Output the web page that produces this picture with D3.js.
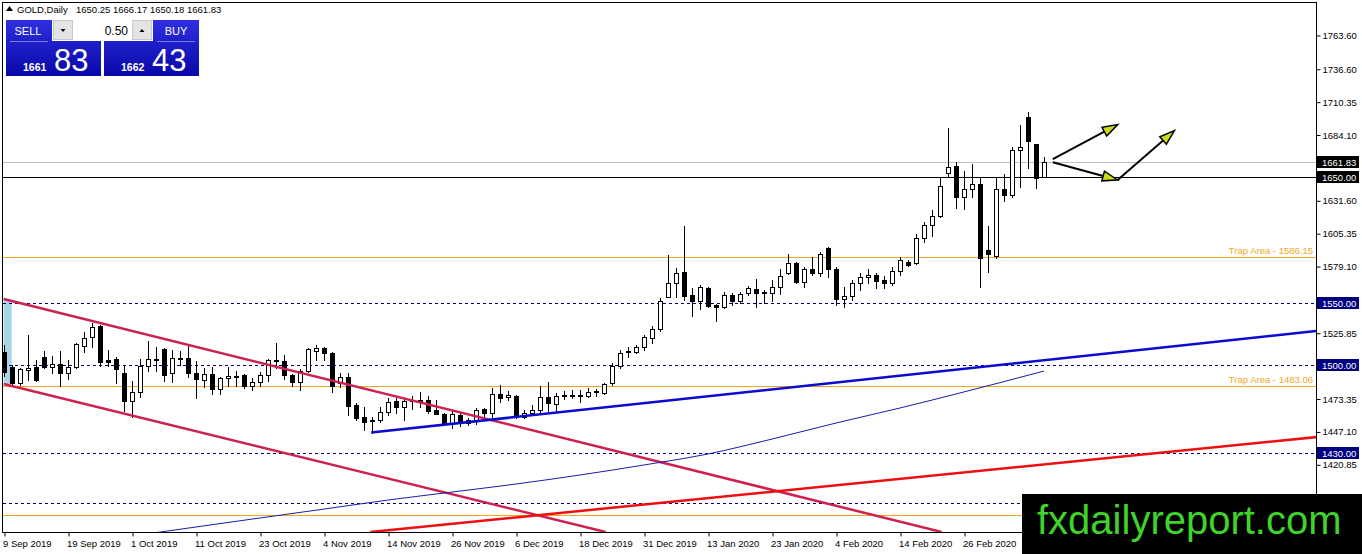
<!DOCTYPE html>
<html>
<head>
<meta charset="utf-8">
<script src="https://cdn.jsdelivr.net/npm/d3@7"></script>
<style>
body { margin: 0; background: #fff; }
svg { display: block; font-family: "Liberation Sans", Arial, sans-serif; }
</style>
</head>
<body>
<svg id="chart" width="1362" height="554"></svg>
<script>
// daily bars, 9 Sep 2019 onwards: [open, high, low, close]
const ohlc = [
  [1510.5,1516.1,1491.3,1494.5],[1498.5,1500.1,1485.0,1485.8],[1485.8,1497.7,1484.1,1496.9],[1496.5,1524.0,1488.1,1498.0],
  [1498.5,1504.1,1487.4,1488.1],[1506.5,1511.3,1497.7,1498.5],[1498.5,1507.3,1493.7,1500.9],[1500.9,1511.3,1483.3,1493.7],
  [1493.7,1504.1,1489.0,1498.5],[1498.5,1517.7,1497.7,1516.9],[1515.3,1526.4,1510.5,1521.7],[1522.5,1533.7,1514.5,1530.5],
  [1531.3,1532.0,1499.3,1502.5],[1504.1,1512.1,1499.3,1502.5],[1504.9,1506.5,1485.8,1496.9],[1493.7,1500.1,1463.4,1471.4],
  [1471.4,1487.4,1458.6,1478.6],[1478.6,1504.9,1474.6,1499.3],[1499.3,1519.3,1495.3,1504.9],[1504.9,1514.5,1495.3,1504.1],
  [1512.9,1513.7,1487.4,1492.1],[1493.7,1512.1,1486.6,1505.7],[1504.9,1511.3,1500.1,1505.7],[1505.7,1516.1,1490.5,1493.7],
  [1493.7,1503.3,1473.8,1489.0],[1488.1,1497.7,1482.5,1493.0],[1493.0,1498.5,1477.0,1481.0],[1481.0,1490.5,1477.0,1489.7],
  [1489.7,1498.5,1483.3,1491.3],[1490.5,1495.3,1483.3,1491.3],[1492.1,1492.6,1481.8,1483.3],[1483.3,1489.7,1480.2,1486.6],
  [1486.6,1494.5,1483.3,1492.1],[1492.1,1504.6,1487.4,1504.1],[1504.1,1517.7,1497.7,1503.3],[1503.3,1508.1,1489.0,1492.1],
  [1492.1,1492.6,1483.3,1486.6],[1486.6,1496.9,1480.2,1495.3],[1495.3,1513.7,1494.5,1512.9],[1511.3,1516.1,1504.1,1513.7],
  [1513.7,1514.5,1504.1,1509.7],[1509.7,1510.5,1478.6,1483.3],[1485.8,1493.7,1482.5,1490.5],[1490.5,1493.7,1460.2,1467.4],
  [1468.2,1469.8,1456.2,1457.8],[1458.6,1466.6,1448.2,1454.6],[1456.2,1458.6,1445.8,1455.4],[1456.2,1466.6,1454.6,1462.6],
  [1462.6,1473.8,1460.2,1470.6],[1471.4,1473.8,1461.8,1466.6],[1466.6,1473.0,1456.2,1471.4],[1471.4,1475.4,1465.0,1472.2],
  [1472.2,1478.6,1466.6,1470.6],[1472.2,1475.4,1461.8,1463.4],[1464.2,1472.2,1461.0,1461.0],[1461.0,1461.8,1453.0,1453.8],
  [1453.8,1464.2,1449.8,1461.0],[1460.2,1461.8,1451.4,1453.8],[1453.8,1457.8,1452.2,1456.2],[1456.2,1465.8,1453.0,1464.2],
  [1465.0,1465.8,1456.2,1461.8],[1461.8,1481.8,1458.6,1477.0],[1477.0,1484.1,1470.6,1473.8],[1474.6,1479.4,1472.2,1476.2],
  [1475.4,1476.2,1457.8,1458.6],[1458.6,1464.2,1457.8,1461.8],[1461.8,1468.2,1460.2,1464.2],[1464.2,1483.3,1462.6,1474.6],
  [1474.6,1486.6,1463.4,1469.8],[1469.0,1477.8,1462.6,1475.4],[1475.4,1479.4,1473.0,1476.2],[1476.2,1480.2,1473.8,1475.4],
  [1475.4,1480.2,1470.6,1476.2],[1475.4,1481.8,1474.6,1478.6],[1478.6,1481.0,1475.4,1479.4],[1477.8,1485.8,1477.0,1485.0],
  [1485.8,1501.7,1484.1,1499.3],[1499.3,1512.1,1497.7,1509.7],[1510.5,1514.5,1506.5,1511.3],[1510.5,1516.1,1509.7,1514.5],
  [1514.5,1524.0,1512.1,1522.5],[1521.7,1531.3,1517.7,1528.9],[1528.9,1553.6,1527.3,1551.2],[1554.4,1588.0,1554.4,1565.6],
  [1565.6,1577.6,1554.4,1573.6],[1574.4,1611.1,1552.0,1555.2],[1556.0,1561.6,1539.3,1551.2],[1551.2,1564.0,1544.8,1562.4],
  [1561.6,1562.4,1546.4,1547.2],[1548.0,1548.5,1535.3,1546.4],[1546.4,1558.4,1545.6,1556.0],[1556.0,1557.6,1548.0,1551.2],
  [1551.2,1558.4,1549.6,1556.8],[1557.6,1563.2,1556.0,1561.6],[1560.8,1568.8,1546.4,1557.6],[1558.4,1560.0,1549.6,1557.6],
  [1557.6,1568.0,1551.2,1562.4],[1562.4,1576.8,1556.8,1571.2],[1573.6,1588.8,1573.0,1581.6],[1581.6,1582.0,1565.6,1566.4],
  [1566.4,1578.4,1562.4,1576.8],[1576.8,1586.4,1572.0,1573.6],[1573.6,1590.4,1571.2,1588.8],[1593.6,1594.0,1570.4,1576.8],
  [1576.8,1578.4,1548.0,1552.8],[1552.8,1562.4,1546.4,1555.2],[1555.2,1568.0,1552.0,1565.6],[1565.6,1573.6,1560.0,1570.4],
  [1570.4,1576.8,1565.6,1572.0],[1572.0,1573.6,1561.6,1567.2],[1568.0,1571.2,1561.6,1565.6],[1565.6,1578.4,1564.0,1575.2],
  [1575.2,1586.4,1572.0,1584.0],[1582.4,1584.0,1579.2,1580.0],[1581.6,1604.7,1581.0,1601.5],[1601.5,1614.3,1598.3,1611.9],
  [1611.9,1623.9,1603.1,1619.1],[1619.1,1650.2,1618.3,1643.0],[1653.4,1689.3,1650.2,1658.2],[1659.0,1662.2,1625.5,1634.3],
  [1634.3,1655.0,1624.7,1640.6],[1640.6,1660.6,1634.3,1644.6],[1644.6,1650.2,1562.4,1585.6],[1592.0,1611.1,1574.4,1588.7],
  [1587.1,1650.2,1585.5,1640.6],[1640.6,1652.6,1631.1,1635.8],[1635.8,1674.2,1634.3,1671.8],[1671.8,1691.7,1642.2,1674.2],
  [1698.1,1702.1,1657.4,1679.0],[1676.5,1676.9,1641.4,1649.4],[1650.25,1666.17,1650.18,1661.83]
];

const dateLabels = ["9 Sep 2019","19 Sep 2019","1 Oct 2019","11 Oct 2019","23 Oct 2019","4 Nov 2019",
  "14 Nov 2019","26 Nov 2019","6 Dec 2019","18 Dec 2019","31 Dec 2019","13 Jan 2020","23 Jan 2020",
  "4 Feb 2020","14 Feb 2020","26 Feb 2020"];
const labelBars = [0,8,16,24,32,40,48,56,64,72,80,88,96,104,112,120];

// visible scale labels (the ones under the price tags are not shown)
const priceTicks = [1763.60,1736.60,1710.35,1684.10,1631.60,1605.35,1579.10,
  1525.85,1473.35,1447.10,1420.85];

// moving average read at some bars: [bar, value]
const maLine = [[16,1363.6],[24,1370.8],[32,1378.0],[40,1385.1],[48,1392.3],[56,1398.7],[64,1405.1],
  [72,1412.3],[80,1420.3],[88,1429.1],[96,1441.0],[104,1453.8],[112,1465.8],[120,1478.6],[130,1495.3]];

// drawn objects, [bar, price] ends
const channelLines = [[[-0.04,1552.8],[117.2,1366.8]], [[-0.04,1484.9],[75.2,1366.8]]];
const redTrend = [[45.8,1366.8],[164.1,1442.6]];
const blueTrend = [[45.9,1446.2],[164.1,1527.3]];
const arrows = [[[131.1,1664.5],[139.2,1692.0]], [[131.1,1662.0],[139.2,1647.8]], [[139.2,1647.8],[146.3,1687.2]]];
const boxZone = [-0.04, 0.96, 1552.0, 1484.9];

const trapLevels = [1586.15, 1483.06, 1380.4];
const trapTexts = ["Trap Area  - 1586.15", "Trap Area - 1483.06", ""];
const dashLevels = [1550.00, 1500.00, 1430.00, 1390.00];
const taggedLevels = [1550.00, 1500.00, 1430.00];
const bidPrice = 1661.83;
const pendingPrice = 1650.00;
const header = ["GOLD,Daily", "1650.25 1666.17 1650.18 1661.83"];

const svg = d3.select("#chart");
const pLeft = 3, pRight = 1316, pTop = 3, pBottom = 532;

const x = d3.scaleLinear().domain([0, 164]).range([4, 4 + 8 * 164]);
const y = d3.scaleLinear().domain([1366.8, 1789.1]).range([pBottom, pTop]);
const py = v => Math.round(y(v)) + 0.5;

svg.append("rect").attr("width", 1362).attr("height", 554).attr("fill", "#fff");

const defs = svg.append("defs");
defs.append("clipPath").attr("id", "plotclip")
  .append("rect").attr("x", pLeft).attr("y", pTop).attr("width", pRight - pLeft).attr("height", pBottom - pTop);
const grad = defs.append("linearGradient").attr("id", "panelblue").attr("x1", 0).attr("y1", 0).attr("x2", 0).attr("y2", 1);
grad.append("stop").attr("offset", "0%").attr("stop-color", "#2f2fe0");
grad.append("stop").attr("offset", "100%").attr("stop-color", "#0808a8");

const plot = svg.append("g").attr("clip-path", "url(#plotclip)");

// light blue zone at the left edge
plot.append("rect")
  .attr("x", x(boxZone[0])).attr("width", x(boxZone[1]) - x(boxZone[0]))
  .attr("y", y(boxZone[2])).attr("height", y(boxZone[3]) - y(boxZone[2]))
  .attr("fill", "#a9d6e5");

// horizontal levels
plot.selectAll(".trap").data(trapLevels).enter().append("line")
  .attr("x1", pLeft).attr("x2", pRight).attr("y1", py).attr("y2", py)
  .attr("stroke", "#f0a81e").attr("stroke-width", 1);
plot.selectAll(".dash").data(dashLevels).enter().append("line")
  .attr("x1", pLeft).attr("x2", pRight).attr("y1", py).attr("y2", py)
  .attr("stroke", "#000080").attr("stroke-width", 1).attr("stroke-dasharray", "3,3");
plot.append("line").attr("x1", pLeft).attr("x2", pRight).attr("y1", py(bidPrice)).attr("y2", py(bidPrice))
  .attr("stroke", "#c0c0c0");
plot.append("line").attr("x1", pLeft).attr("x2", pRight).attr("y1", py(pendingPrice)).attr("y2", py(pendingPrice))
  .attr("stroke", "#000");

svg.selectAll(".traptxt").data(trapLevels).enter().append("text")
  .attr("x", pRight - 3).attr("y", d => y(d) - 3)
  .attr("text-anchor", "end").attr("font-size", 9.5).attr("fill", "#f0a81e")
  .text((d, i) => trapTexts[i]);

// candles
const cg = plot.append("g");
ohlc.forEach((d, i) => {
  const cx = Math.round(x(i));
  const [o, h, l, c] = d;
  cg.append("line").attr("x1", cx + 0.5).attr("x2", cx + 0.5)
    .attr("y1", Math.round(y(h))).attr("y2", Math.round(y(l)) + 1)
    .attr("stroke", "#000");
  const t = Math.round(y(Math.max(o, c))), b = Math.round(y(Math.min(o, c)));
  cg.append("rect").attr("x", cx - 1.5).attr("width", 4)
    .attr("y", t + 0.5).attr("height", Math.max(b - t, 0))
    .attr("fill", c >= o ? "#fff" : "#000").attr("stroke", "#000");
});

// trend lines
const seg = d3.line().x(d => x(d[0])).y(d => y(d[1]));
plot.selectAll(".chan").data(channelLines).enter().append("path")
  .attr("d", seg).attr("fill", "none").attr("stroke", "#cc2250").attr("stroke-width", 2.5);
plot.append("path").attr("d", seg(redTrend)).attr("fill", "none").attr("stroke", "#ee1010").attr("stroke-width", 2.5);
plot.append("path").attr("d", seg(blueTrend)).attr("fill", "none").attr("stroke", "#0a0ad0").attr("stroke-width", 2.5);
plot.append("path").attr("d", d3.line().x(d => x(d[0])).y(d => y(d[1])).curve(d3.curveMonotoneX)(maLine))
  .attr("fill", "none").attr("stroke", "#1c1ca8").attr("stroke-width", 1);

// arrows
arrows.forEach(a => {
  const x1 = x(a[0][0]), y1 = y(a[0][1]), x2 = x(a[1][0]), y2 = y(a[1][1]);
  const len = Math.hypot(x2 - x1, y2 - y1), ux = (x2 - x1) / len, uy = (y2 - y1) / len;
  const hl = 15, hw = 5;
  const bx = x2 - ux * hl, by = y2 - uy * hl;
  plot.append("line").attr("x1", x1).attr("y1", y1).attr("x2", bx).attr("y2", by)
    .attr("stroke", "#000").attr("stroke-width", 2);
  plot.append("path")
    .attr("d", `M${x2},${y2}L${bx - uy * hw},${by + ux * hw}L${bx + uy * hw},${by - ux * hw}Z`)
    .attr("fill", "#c8dc1a").attr("stroke", "#000").attr("stroke-width", 1.5).attr("stroke-linejoin", "miter");
});

// frame
svg.append("rect").attr("x", 2.5).attr("y", 2.5).attr("width", pRight - 2).attr("height", pBottom - 2)
  .attr("fill", "none").attr("stroke", "#000");

// price axis
const ya = svg.append("g").attr("transform", `translate(${pRight + 0.5},0.5)`)
  .call(d3.axisRight(y).tickValues(priceTicks).tickFormat(d3.format(".2f")).tickSize(4).tickPadding(2));
ya.select(".domain").remove();
ya.selectAll("text").attr("font-size", 9.5).attr("font-family", "Liberation Sans, Arial, sans-serif").attr("fill", "#000");

// price tags
function tag(v, bg) {
  const g = svg.append("g").attr("transform", `translate(${pRight + 1},${Math.round(y(v))})`);
  g.append("rect").attr("x", 0).attr("y", -6).attr("width", 42).attr("height", 12).attr("fill", bg);
  g.append("text").attr("x", 5).attr("y", 3.5).attr("font-size", 9.5).attr("fill", "#fff").text(d3.format(".2f")(v));
}
taggedLevels.forEach(v => tag(v, "#000080"));
tag(bidPrice, "#000");
tag(pendingPrice, "#000");

// time axis
const xa = svg.append("g").attr("transform", `translate(0.5,${pBottom + 0.5})`)
  .call(d3.axisBottom(x).tickValues(labelBars).tickFormat((d, i) => dateLabels[i]).tickSize(4).tickPadding(2));
xa.select(".domain").remove();
xa.selectAll("text").attr("text-anchor", "start").attr("x", -2).attr("y", 8).attr("dy", "0.71em")
  .attr("font-size", 9.5).attr("font-family", "Liberation Sans, Arial, sans-serif").attr("fill", "#000");

// header
svg.append("path").attr("d", "M6,11L9.5,6L13,11Z").attr("fill", "#000");
svg.append("text").attr("x", 17).attr("y", 12.5).attr("font-size", 9.5).text(header[0]);
svg.append("text").attr("x", 76).attr("y", 12.5).attr("font-size", 9.5).text(header[1]);

// one-click trading panel
const pn = svg.append("g");
pn.append("rect").attr("x", 6).attr("y", 20).attr("width", 95).attr("height", 56).attr("fill", "url(#panelblue)");
pn.append("rect").attr("x", 104).attr("y", 20).attr("width", 95).attr("height", 56).attr("fill", "url(#panelblue)");
pn.append("rect").attr("x", 52).attr("y", 19).attr("width", 101).attr("height", 22).attr("fill", "#fff");
pn.append("rect").attr("x", 53.5).attr("y", 20.5).attr("width", 19).attr("height", 19).attr("fill", "#e4e4e4").attr("stroke", "#c8c8c8");
pn.append("rect").attr("x", 132.5).attr("y", 20.5).attr("width", 19).attr("height", 19).attr("fill", "#e4e4e4").attr("stroke", "#c8c8c8");
pn.append("path").attr("d", "M60.5,29L65.5,29L63,32Z").attr("fill", "#000");
pn.append("path").attr("d", "M139.5,32L144.5,32L142,29Z").attr("fill", "#000");
pn.append("text").attr("x", 128).attr("y", 35).attr("text-anchor", "end").attr("font-size", 12).attr("fill", "#000").text("0.50");
pn.append("line").attr("x1", 10).attr("x2", 48).attr("y1", 41.5).attr("y2", 41.5).attr("stroke", "#7a7aee");
pn.append("line").attr("x1", 157).attr("x2", 195).attr("y1", 41.5).attr("y2", 41.5).attr("stroke", "#7a7aee");
pn.append("text").attr("x", 28).attr("y", 35).attr("text-anchor", "middle").attr("font-size", 11).attr("fill", "#fff").text("SELL");
pn.append("text").attr("x", 176).attr("y", 35).attr("text-anchor", "middle").attr("font-size", 11).attr("fill", "#fff").text("BUY");
pn.append("text").attr("x", 23).attr("y", 71).attr("font-size", 10.5).attr("font-weight", "bold").attr("fill", "#fff").text("1661");
pn.append("text").attr("x", 54).attr("y", 71).attr("font-size", 31).attr("fill", "#fff").text("83");
pn.append("text").attr("x", 121).attr("y", 71).attr("font-size", 10.5).attr("font-weight", "bold").attr("fill", "#fff").text("1662");
pn.append("text").attr("x", 152).attr("y", 71).attr("font-size", 31).attr("fill", "#fff").text("43");

// watermark
svg.append("rect").attr("x", 1022).attr("y", 494).attr("width", 340).attr("height", 60).attr("fill", "#000");
svg.append("text").attr("x", 1037).attr("y", 534).attr("font-size", 40).attr("fill", "#3fd42a").text("fxdailyreport.com");
</script>
</body>
</html>
